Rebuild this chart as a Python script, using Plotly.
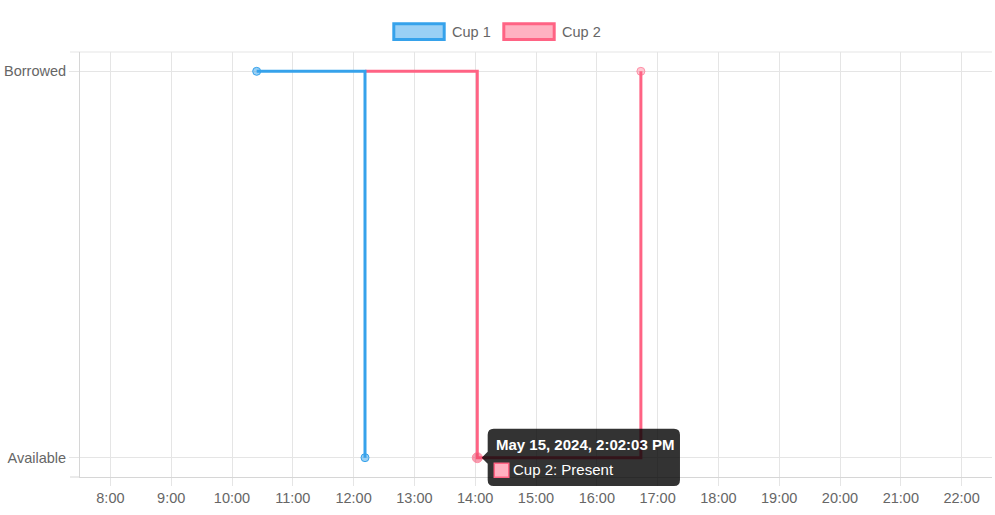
import plotly.graph_objects as go

# Cup state history (one day, step chart)
CUP1_TIMES = ["2024-05-15 10:24:20", "2024-05-15 12:11:15"]
CUP1_STATES = [1, 0]
CUP2_TIMES = ["2024-05-15 12:11:15", "2024-05-15 14:02:03", "2024-05-15 16:43:30"]
CUP2_STATES = [1, 0, 1]

STATE_VALUES = [0, 1]
STATE_LABELS = ["Available", "Borrowed"]

HOUR_LABELS = ["8:00", "9:00", "10:00", "11:00", "12:00", "13:00", "14:00", "15:00",
               "16:00", "17:00", "18:00", "19:00", "20:00", "21:00", "22:00"]
HOUR_TICKS = ["2024-05-15 " + h.zfill(5) for h in HOUR_LABELS]

X_RANGE = ["2024-05-15 07:30", "2024-05-15 22:30"]
Y_RANGE = [-0.05, 1.05]

# hovered point shown in the tooltip
TIP_TIME = CUP2_TIMES[1]
TIP_STATE = CUP2_STATES[1]
TIP_TITLE = "May 15, 2024, 2:02:03 PM"
TIP_BODY = "Cup 2: Present"

BLUE = "#36a2eb"
BLUE_BG = "rgba(54,162,235,0.5)"
PINK = "#ff6384"
PINK_BG = "rgba(255,99,132,0.5)"
GRID = "#e5e5e5"
TEXT = "#666666"
FONT = "Liberation Sans, Arial, sans-serif"

W, H = 995, 515
M = dict(l=80, r=3, t=52, b=38)
PLOT_W = W - M["l"] - M["r"]

fig = go.Figure()

# Cup 2 first so Cup 1 sits on top, like the original
fig.add_trace(go.Scatter(
    x=CUP2_TIMES, y=CUP2_STATES, name="Cup 2",
    mode="lines+markers", line=dict(color=PINK, width=3, shape="hv"),
    marker=dict(size=[0, 10, 8], color=[PINK_BG, "rgba(240,70,105,0.75)", PINK_BG],
                line=dict(color=PINK, width=1)),
    hoverinfo="skip", showlegend=False,
))
fig.add_trace(go.Scatter(
    x=CUP1_TIMES, y=CUP1_STATES, name="Cup 1",
    mode="lines+markers", line=dict(color=BLUE, width=3, shape="hv"),
    marker=dict(size=8, color=BLUE_BG, line=dict(color=BLUE, width=1)),
    hoverinfo="skip", showlegend=False,
))

shapes = []
annotations = []

# border lines: top edge and tick stubs at left
stub = -10 / PLOT_W
shapes.append(dict(type="line", xref="paper", yref="paper", x0=stub, x1=1, y0=1, y1=1,
                   line=dict(color=GRID, width=1), layer="below"))
shapes.append(dict(type="line", xref="paper", yref="paper", x0=stub, x1=0, y0=0, y1=0,
                   line=dict(color="#d6d6d6", width=1), layer="below"))

# legend drawn as Chart.js-like boxes
for name, col, bg, bx in [("Cup 1", BLUE, BLUE_BG, 312.3), ("Cup 2", PINK, PINK_BG, 422.3)]:
    shapes.append(dict(type="rect", xref="paper", yref="paper", xsizemode="pixel",
                       ysizemode="pixel", xanchor=0, yanchor=1,
                       x0=bx + 1.5, x1=bx + 53.4 - 1.5, y0=11 + 1.5, y1=29.7 - 1.5,
                       fillcolor=bg, line=dict(color=col, width=3)))
    annotations.append(dict(xref="paper", yref="paper", x=0, y=1, xshift=bx + 57.9,
                            yshift=20.3, xanchor="left", yanchor="middle", showarrow=False,
                            text=name, font=dict(family=FONT, size=14.5, color=TEXT)))

# tooltip box with caret, anchored at the hovered point
# (y in paper units so the box is not clipped at the bottom of the plot)
tip_y = (TIP_STATE - Y_RANGE[0]) / (Y_RANGE[1] - Y_RANGE[0])
tip_path = ("M 16.4,29 H 196.7 Q 202.7,29 202.7,23 V -22.4 Q 202.7,-28.4 196.7,-28.4 "
            "H 16.4 Q 10.4,-28.4 10.4,-22.4 V -6 L 4.4,0 L 10.4,6 V 23 Q 10.4,29 16.4,29 Z")
shapes.append(dict(type="path", xref="x", yref="paper", xsizemode="pixel", ysizemode="pixel",
                   xanchor=TIP_TIME, yanchor=tip_y, path=tip_path,
                   fillcolor="rgba(0,0,0,0.8)", line=dict(width=0)))
shapes.append(dict(type="rect", xref="x", yref="paper", xsizemode="pixel", ysizemode="pixel",
                   xanchor=TIP_TIME, yanchor=tip_y, x0=17, x1=31.5, y0=-19.5, y1=-5.5,
                   fillcolor="#ffb1c1", line=dict(color=PINK, width=1.5)))
annotations.append(dict(xref="x", yref="y", x=TIP_TIME, y=TIP_STATE, xshift=17.2, yshift=13.3,
                        xanchor="left", yanchor="middle", showarrow=False,
                        text="<b>" + TIP_TITLE + "</b>",
                        font=dict(family=FONT, size=15, color="#ffffff")))
annotations.append(dict(xref="x", yref="y", x=TIP_TIME, y=TIP_STATE, xshift=33.5, yshift=-11.7,
                        xanchor="left", yanchor="middle", showarrow=False, text=TIP_BODY,
                        font=dict(family=FONT, size=15, color="#ffffff")))

fig.update_layout(
    width=W, height=H, margin=M,
    paper_bgcolor="white", plot_bgcolor="white",
    font=dict(family=FONT, size=14.5, color=TEXT),
    showlegend=False,
    shapes=shapes, annotations=annotations,
    xaxis=dict(type="date", range=X_RANGE, tickvals=HOUR_TICKS, ticktext=HOUR_LABELS,
               showgrid=True, gridcolor=GRID, zeroline=False,
               showline=True, linecolor="#d6d6d6", linewidth=1,
               ticks="outside", ticklen=8, tickcolor=GRID),
    yaxis=dict(range=Y_RANGE, tickvals=STATE_VALUES, ticktext=STATE_LABELS,
               showgrid=True, gridcolor=GRID, zeroline=False,
               showline=True, linecolor="#d6d6d6", linewidth=1,
               ticks="outside", ticklen=10, tickcolor=GRID),
)

# page body has a default 8px margin; drop it so the chart sits at the window corner
fig.write_html("out.html", config={"displayModeBar": False},
               post_script="document.body.style.margin='0';")
